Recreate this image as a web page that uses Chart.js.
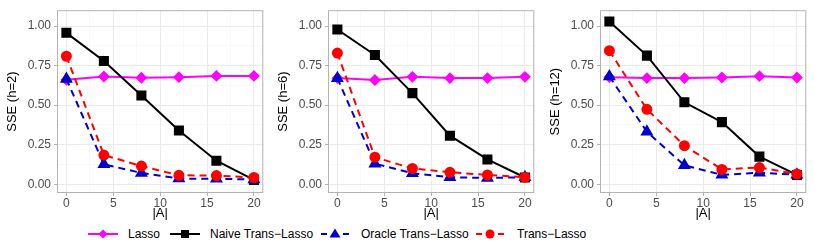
<!DOCTYPE html>
<html>
<head>
<meta charset="utf-8">
<script src="https://cdn.jsdelivr.net/npm/chart.js@4.4.1/dist/chart.umd.min.js"></script>
<style>
  body { margin: 0; background: #fff; width: 814px; height: 245px; overflow: hidden;
         font-family: "Liberation Sans", Arial, sans-serif; }
  .panel { position: absolute; top: 0; width: 271px; height: 221px; }
  .key { position: absolute; top: 227px; }
  .lab { position: absolute; top: 226px; font-size: 12px; line-height: 16px; color: #000; white-space: nowrap; }
</style>
</head>
<body>
<div class="panel" style="left:0px"><canvas id="c1"></canvas></div>
<div class="panel" style="left:271px"><canvas id="c2"></canvas></div>
<div class="panel" style="left:543px"><canvas id="c3"></canvas></div>

<svg class="key" style="left:88px" width="30" height="14"><line x1="0" y1="7" x2="30" y2="7" stroke="#FF00FF" stroke-width="2"/><polygon points="15,2.5 19.5,7 15,11.5 10.5,7" fill="#FF00FF"/></svg>
<span class="lab" style="left:128px">Lasso</span>
<svg class="key" style="left:170px" width="30" height="14"><line x1="0" y1="7" x2="30" y2="7" stroke="#000" stroke-width="2"/><rect x="11" y="3" width="8" height="8" fill="#000"/></svg>
<span class="lab" style="left:210px">Naive Trans−Lasso</span>
<svg class="key" style="left:321px" width="28" height="14"><line x1="0" y1="7" x2="28" y2="7" stroke="#0000CD" stroke-width="2" stroke-dasharray="6,5"/><polygon points="14,1.5 19.5,10.5 8.5,10.5" fill="#0000CD"/></svg>
<span class="lab" style="left:361px">Oracle Trans−Lasso</span>
<svg class="key" style="left:476px" width="28" height="14"><line x1="0" y1="7" x2="28" y2="7" stroke="#FF0000" stroke-width="2" stroke-dasharray="6,5"/><circle cx="14" cy="7" r="4.5" fill="#FF0000"/></svg>
<span class="lab" style="left:517px">Trans−Lasso</span>

<script>
// number of auxiliary samples |A|
const sizes = [0, 4, 8, 12, 16, 20];

// h = 2
const lassoH2  = [0.660, 0.681, 0.673, 0.677, 0.685, 0.685];
const naiveH2  = [0.957, 0.779, 0.561, 0.340, 0.149, 0.028];
const oracleH2 = [0.665, 0.126, 0.072, 0.036, 0.035, 0.030];
const transH2  = [0.809, 0.185, 0.115, 0.057, 0.055, 0.043];

// h = 6
const lassoH6  = [0.671, 0.659, 0.679, 0.671, 0.671, 0.679];
const naiveH6  = [0.978, 0.817, 0.576, 0.307, 0.157, 0.043];
const oracleH6 = [0.670, 0.130, 0.070, 0.045, 0.040, 0.045];
const transH6  = [0.829, 0.171, 0.100, 0.076, 0.059, 0.045];

// h = 12
const lassoH12  = [0.677, 0.671, 0.671, 0.675, 0.683, 0.675];
const naiveH12  = [1.029, 0.813, 0.518, 0.393, 0.175, 0.059];
const oracleH12 = [0.681, 0.332, 0.120, 0.060, 0.073, 0.060];
const transH12  = [0.844, 0.474, 0.244, 0.094, 0.106, 0.065];

const xTicks = [0, 2.5, 5, 7.5, 10, 12.5, 15, 17.5, 20];
const yTicks = [0, 0.125, 0.25, 0.375, 0.5, 0.625, 0.75, 0.875, 1];

Chart.defaults.font.family = '"Liberation Sans", Arial, sans-serif';

const panelBorder = {
  id: 'panelBorder',
  beforeDatasetsDraw(chart) {
    const a = chart.chartArea;
    const ctx = chart.ctx;
    ctx.save();
    ctx.strokeStyle = '#b3b3b3';
    ctx.lineWidth = 1;
    ctx.strokeRect(a.left + 0.5, a.top + 0.5, a.right - a.left - 1, a.bottom - a.top - 1);
    ctx.restore();
  }
};

function pts(values) {
  return sizes.map((x, i) => ({ x: x, y: values[i] }));
}

function isMajorX(v) { return Math.abs(v % 5) < 1e-9; }
function isMajorY(v) { return Math.round(v * 8) % 2 === 0; }

function makePanel(id, yTitle, lasso, naive, oracle, trans) {
  new Chart(document.getElementById(id), {
    type: 'line',
    data: {
      datasets: [
        { label: 'Lasso', data: pts(lasso), borderColor: '#FF00FF', backgroundColor: '#FF00FF',
          borderWidth: 2, pointStyle: 'rectRot', pointRadius: 4.5, order: 3, clip: false },
        { label: 'Naive Trans-Lasso', data: pts(naive), borderColor: '#000000', backgroundColor: '#000000',
          borderWidth: 2, pointStyle: 'rect', pointRadius: 5.7, order: 2, clip: false },
        { label: 'Oracle Trans-Lasso', data: pts(oracle), borderColor: '#0000CD', backgroundColor: '#0000CD',
          borderWidth: 2, borderDash: [7, 5], pointStyle: 'triangle', pointRadius: 5.5, order: 1, clip: false },
        { label: 'Trans-Lasso', data: pts(trans), borderColor: '#FF0000', backgroundColor: '#FF0000',
          borderWidth: 2, borderDash: [7, 5], pointStyle: 'circle', pointRadius: 4.5, order: 0, clip: false }
      ]
    },
    options: {
      responsive: true,
      maintainAspectRatio: false,
      animation: false,
      layout: { padding: { top: 3, right: 5, left: 0, bottom: 0 } },
      plugins: { legend: { display: false }, tooltip: { enabled: false } },
      elements: { line: { tension: 0 }, point: { borderWidth: 0 } },
      scales: {
        x: {
          type: 'linear', min: -1, max: 21,
          afterBuildTicks: s => { s.ticks = xTicks.map(v => ({ value: v })); },
          afterFit: s => { s.height = 28; },
          ticks: {
            autoSkip: false, maxRotation: 0, padding: 0,
            color: '#4d4d4d', font: { size: 12 },
            callback: v => isMajorX(v) ? String(v) : ''
          },
          grid: {
            color: c => isMajorX(c.tick.value) ? '#ebebeb' : '#f5f5f5',
            lineWidth: c => isMajorX(c.tick.value) ? 1 : 0.6,
            tickLength: 3,
            tickColor: c => isMajorX(c.tick.value) ? '#b3b3b3' : 'rgba(0,0,0,0)'
          },
          border: { display: false },
          title: { display: true, text: '|A|', color: '#000', font: { size: 13 }, padding: { top: 0, bottom: 0 } }
        },
        y: {
          type: 'linear', min: -0.055, max: 1.1,
          afterBuildTicks: s => { s.ticks = yTicks.map(v => ({ value: v })); },
          afterFit: s => { s.width = 57; },
          ticks: {
            autoSkip: false, padding: 3,
            color: '#4d4d4d', font: { size: 12 },
            callback: v => isMajorY(v) ? v.toFixed(2) : ''
          },
          grid: {
            color: c => isMajorY(c.tick.value) ? '#ebebeb' : '#f5f5f5',
            lineWidth: c => isMajorY(c.tick.value) ? 1 : 0.6,
            tickLength: 3,
            tickColor: c => isMajorY(c.tick.value) ? '#b3b3b3' : 'rgba(0,0,0,0)'
          },
          border: { display: false },
          title: { display: true, text: yTitle, color: '#000', font: { size: 13 }, padding: { top: 5, bottom: 0 } }
        }
      }
    },
    plugins: [panelBorder]
  });
}

makePanel('c1', 'SSE (h=2)', lassoH2, naiveH2, oracleH2, transH2);
makePanel('c2', 'SSE (h=6)', lassoH6, naiveH6, oracleH6, transH6);
makePanel('c3', 'SSE (h=12)', lassoH12, naiveH12, oracleH12, transH12);
</script>
</body>
</html>
